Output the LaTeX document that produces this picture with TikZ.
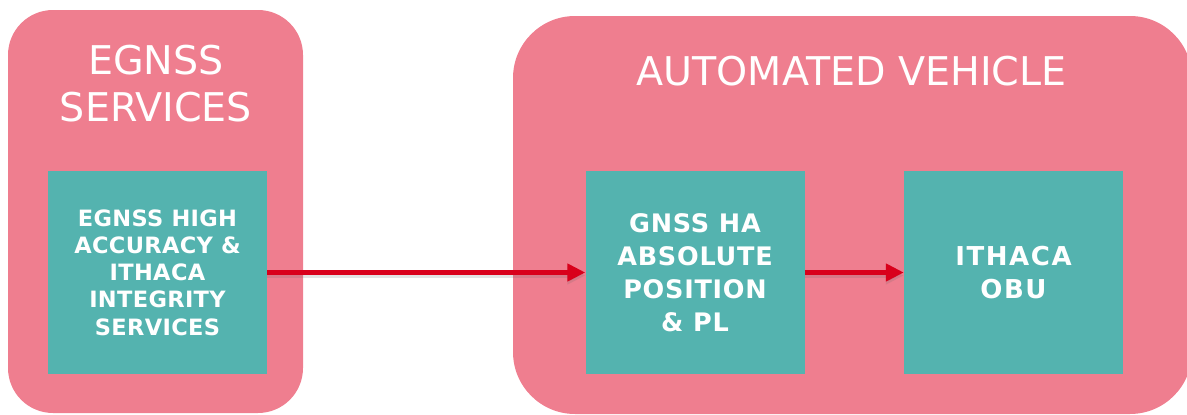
\documentclass[tikz,border=0pt]{standalone}
\usepackage{fontspec}
\setmainfont{DejaVu Sans}
\usetikzlibrary{arrows.meta}
\definecolor{pinkbg}{HTML}{EF7E8F}
\definecolor{tealbox}{HTML}{54B3AF}
\definecolor{arrowred}{HTML}{D9001B}
\tikzset{
  group/.style={fill=pinkbg, draw=none, inner sep=0pt},
  grouptitle/.style={text=white, align=center, inner sep=0pt, font=\fontsize{39.6}{47}\selectfont},
  tealnode/.style={fill=tealbox, draw=none, minimum width=219pt, minimum height=203pt, inner sep=0pt,
     text=white, align=center},
  link/.style={arrowred, line width=4.5pt, -{Triangle[length=18pt,width=17pt]}},
  linkshadow/.style={black!60, opacity=0.18, line width=5pt, -{Triangle[length=18pt,width=17pt]}}
}
\begin{document}
\begin{tikzpicture}[x=1pt,y=-1pt]
\useasboundingbox (0,0) rectangle (1187,415);
% groups
\draw[group, rounded corners=45pt] (8,10) rectangle (303,413);
\draw[group, rounded corners=62pt] (513,16) rectangle (1192,414);
\node[grouptitle, anchor=base] (t1) at (156,74) {EGNSS};
\node[grouptitle, anchor=base] (t2) at (156,121) {SERVICES};
\node[grouptitle, anchor=base] (t3) at (851.5,85) {AUTOMATED VEHICLE};
% boxes
\node[tealnode, font=\bfseries\fontsize{22.5}{27.2}\selectfont\addfontfeature{LetterSpace=1.5}] (a) at (157.5,272.5)
  {EGNSS HIGH\\ACCURACY \&\\ITHACA\\INTEGRITY\\SERVICES};
\node[tealnode, font=\bfseries\fontsize{25.5}{33}\selectfont\addfontfeature{LetterSpace=3}] (b) at (695,272.5)
  {GNSS HA\\ABSOLUTE\\POSITION\\\& PL};
\node[tealnode, font=\bfseries\fontsize{26}{32.5}\selectfont\addfontfeature{LetterSpace=6}] (c) at (1013.5,272.5)
  {ITHACA\\OBU};
% arrows
\draw[linkshadow] ([yshift=-3pt]a.east) -- ([yshift=-3pt]b.west);
\draw[linkshadow] ([yshift=-3pt]b.east) -- ([yshift=-3pt]c.west);
\draw[link] (a.east) -- (b.west);
\draw[link] (b.east) -- (c.west);
\end{tikzpicture}
\end{document}
